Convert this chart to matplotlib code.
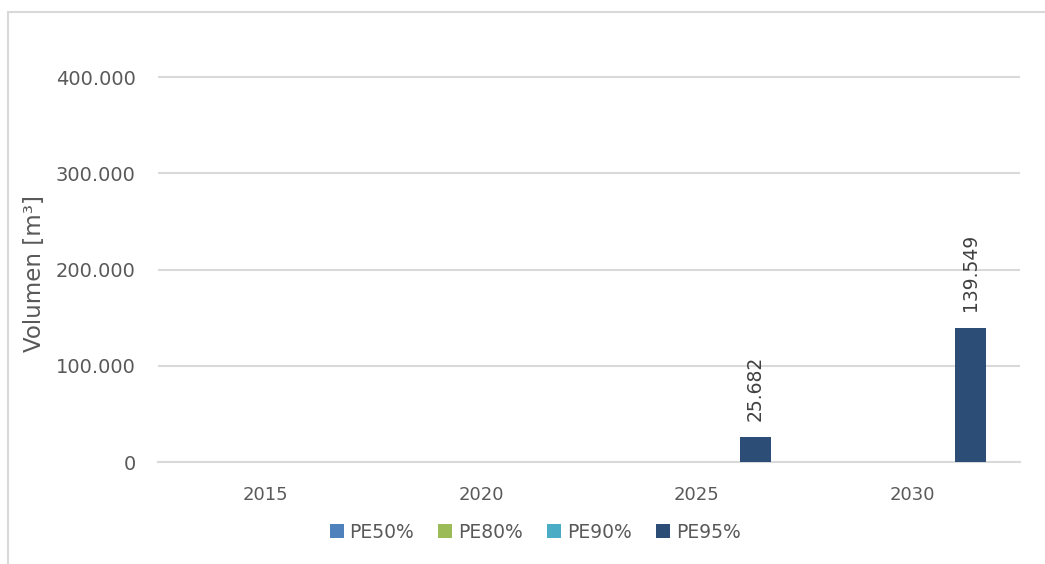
import numpy as np
import matplotlib
matplotlib.use("Agg")
import matplotlib.pyplot as plt
from matplotlib.patches import Rectangle

# data
years = ["2015", "2020", "2025", "2030"]
series = ["PE50%", "PE80%", "PE90%", "PE95%"]
pe50 = [0, 0, 0, 0]
pe80 = [0, 0, 0, 0]
pe90 = [0, 0, 0, 0]
pe95 = [0, 0, 25682, 139549]
colors = ["#4F81BD", "#9BBB59", "#4BACC6", "#2C4D75"]

def fmt(v):
    return f"{v:,.0f}".replace(",", ".")

W, H = 1045, 564
fig = plt.figure(figsize=(W / 100, H / 100), dpi=100)
fig.patch.set_facecolor("white")
fig.patches.append(Rectangle((8 / W, -0.1), 1.2, 1 - 12 / H + 0.1,
                             transform=fig.transFigure, fill=False,
                             edgecolor="#D9D9D9", linewidth=1.5))

# axes box: y=0 at px 462, 400k at px 77 (a bit of headroom so top grid isn't clipped)
ax = fig.add_axes([158 / W, 1 - 462 / H, (1020 - 158) / W, (462 - 67.4) / H])

x = np.arange(len(years))
step = 0.181
bw = 0.144
for i, (name, vals) in enumerate(zip(series, [pe50, pe80, pe90, pe95])):
    pos = x + (i - 1.5) * step
    ax.bar(pos, vals, width=bw, color=colors[i], label=name, zorder=3)
    if name == "PE95%":
        for xp, v in zip(pos, vals):
            if v > 0:
                ax.annotate(fmt(v), (xp, v), xytext=(0, 12), textcoords="offset points",
                            rotation=90, ha="center", va="bottom", fontsize=13.5,
                            color="#404040", annotation_clip=False)

ax.set_xlim(-0.5, 3.5)
ax.set_ylim(0, 410000)
yt = [0, 100000, 200000, 300000, 400000]
ax.set_yticks(yt)
ax.set_yticklabels([fmt(v) for v in yt])
ax.set_xticks(x)
ax.set_xticklabels(years)
ax.yaxis.grid(True, color="#D9D9D9", linewidth=1.5, zorder=0)
for s in ["top", "right", "left"]:
    ax.spines[s].set_visible(False)
ax.spines["bottom"].set_color("#D9D9D9")
ax.spines["bottom"].set_linewidth(1.5)
ax.tick_params(axis="both", length=0, labelcolor="#595959")
ax.tick_params(axis="y", pad=16, labelsize=14)
ax.tick_params(axis="x", pad=17, labelsize=13)
ax.set_ylabel("Volumen [m³]", fontsize=16.5, color="#595959")
ax.yaxis.set_label_coords(35 / W, 1 - 274 / H, transform=fig.transFigure)
ax.yaxis.label.set_va("center")

ax.legend(loc="center", bbox_to_anchor=(535 / W, 1 - 532 / H),
          bbox_transform=fig.transFigure, ncol=4, frameon=False, fontsize=13.5,
          labelcolor="#595959", handlelength=0.75, handleheight=0.75,
          handletextpad=0.3, columnspacing=1.3)

fig.savefig("out.png", dpi=100, facecolor="white")
